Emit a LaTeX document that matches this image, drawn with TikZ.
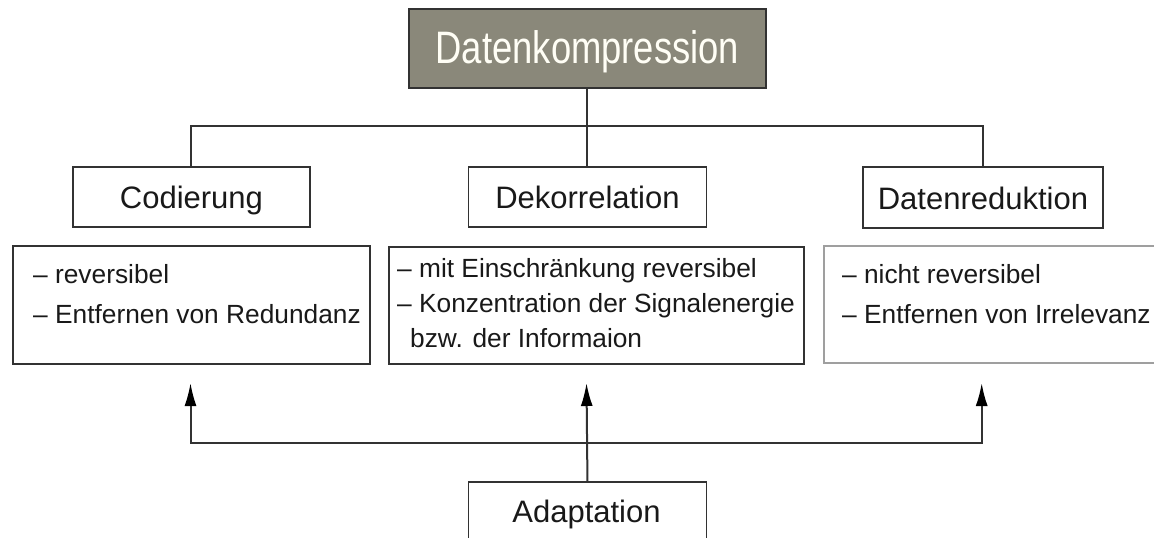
\documentclass[tikz,border=0pt]{standalone}
\usepackage{fontspec}
\setmainfont{Liberation Sans}
\newfontfamily\narrowfont[FakeStretch=0.8]{Liberation Sans}
\usetikzlibrary{arrows.meta}
\definecolor{titlefill}{RGB}{138,136,122}
\definecolor{linec}{RGB}{50,50,50}
\definecolor{txt}{RGB}{25,25,25}
\tikzset{
  box/.style={draw=linec, line width=1.9pt, fill=white, inner sep=0pt, anchor=north west, text=txt,
    font=\fontsize{31}{36}\selectfont, text height=24pt, text depth=0pt},
  titlebox/.style={box, fill=titlefill, text=white!96!yellow, font=\narrowfont\fontsize{45.5}{50}\selectfont,
    text height=31pt, text depth=0pt},
  item/.style={anchor=base west, inner sep=0pt, text=txt, font=\fontsize{26.3}{30}\selectfont},
  lbl/.style={anchor=base, inner sep=0pt, text=txt, font=\fontsize{31}{36}\selectfont},
  conn/.style={draw=linec, line width=2pt},
  arr/.style={conn, -{Latex[length=23pt,width=12pt,color=black]}},
}
\begin{document}
\begin{tikzpicture}[x=1pt,y=-1pt]
\clip (0,0) rectangle (1154,538);
\fill[white] (0,0) rectangle (1154,538);
% top
\node[titlebox, minimum width=357pt, minimum height=79pt] (title) at (408,8) {Datenkompression};
% category boxes
\node[box, minimum width=237pt, minimum height=60pt] (cod) at (72,166) {Codierung};
\node[box, minimum width=238pt, minimum height=60pt] (dek) at (467.5,166) {Dekorrelation};
\node[box, minimum width=240pt, minimum height=61pt] (dat) at (862,166) {Datenreduktion};
% description boxes
\node[box, minimum width=357pt, minimum height=118pt] (codL) at (12,245) {};
\node[box, minimum width=415pt, minimum height=117pt] (dekL) at (388,246) {};
\node[box, draw=gray!75, minimum width=360pt, minimum height=117pt] (datL) at (823,245) {};
\node[item] (c1) at (33,283) {– reversibel};
\node[item] (c2) at (33,323) {– Entfernen von Redundanz};
\node[item] (d1) at (397,277) {– mit Einschränkung reversibel};
\node[item] (d2) at (397,312) {– Konzentration der Signalenergie};
\node[item] (d3) at (410,347) {bzw. der Informaion};
\node[item] (r1) at (842,283) {– nicht reversibel};
\node[item] (r2) at (842,323) {– Entfernen von Irrelevanz};
% adaptation
\node[box, minimum width=238pt, minimum height=90pt] (ada) at (467.5,481) {};
\node[lbl] (adat) at (586.5,522) {Adaptation};
% connectors top
\coordinate (bus) at (586.5,126);
\draw[conn] (title.south) -- (dek.north);
\draw[conn] (cod.north) |- (bus) -| (dat.north);
% arrows bottom
\coordinate (abus) at (586.5,443);
\coordinate (t1) at (190.5,383);
\coordinate (t2) at (586.5,383);
\coordinate (t3) at (981.7,383);
\draw[arr] (ada.north) -- (t2);
\draw[arr] (abus) -| (t1);
\draw[arr] (abus) -| (t3);
\end{tikzpicture}
\end{document}
